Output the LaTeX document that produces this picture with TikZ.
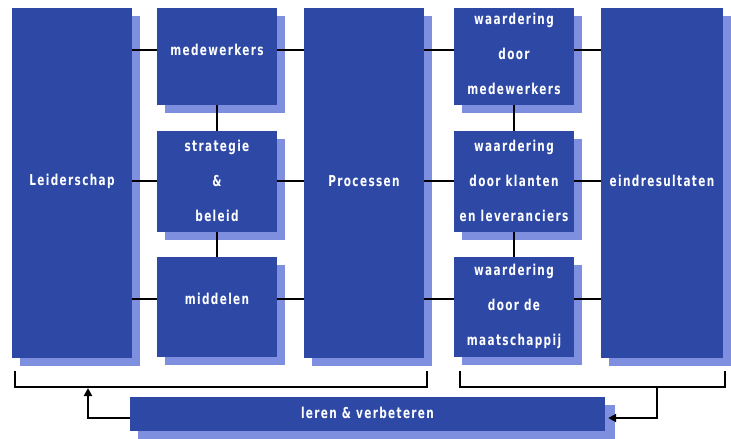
\documentclass[tikz,border=0pt]{standalone}
\usepackage{fontspec}
\newfontfamily\boxfont{DejaVu Sans}[FakeStretch=0.7,LetterSpace=9]
\usetikzlibrary{shadows,arrows.meta,calc}
\definecolor{boxblue}{RGB}{45,72,165}
\definecolor{shadowblue}{RGB}{125,143,222}
\begin{document}
\begin{tikzpicture}[x=1pt,y=-1pt,
  blk/.style={fill=boxblue, draw=none, inner sep=0pt, minimum width=120pt,
    drop shadow={shadow xshift=8pt, shadow yshift=-8pt, fill=shadowblue, opacity=1}},
  lbl/.style={text=white, font=\boxfont\bfseries\fontsize{15}{35}\selectfont, align=center, inner sep=0pt},
  conn/.style={draw=black, line width=2.6pt},
  arr/.style={conn, -{Triangle[length=8pt,width=8pt]}}
]
\useasboundingbox[fill=white] (0,0) rectangle (731,439);

% boxes
\node[blk, minimum height=350pt] (lead) at (72,183) {};
\node[blk, minimum height=97pt] (med) at (217,56.5) {};
\node[blk, minimum height=101pt] (strat) at (217,181.5) {};
\node[blk, minimum height=100pt] (midd) at (217,307) {};
\node[blk, minimum height=350pt] (proc) at (364,183) {};
\node[blk, minimum height=97pt] (wm) at (514,56.5) {};
\node[blk, minimum height=101pt] (wk) at (514,181.5) {};
\node[blk, minimum height=100pt] (wmt) at (514,307) {};
\node[blk, minimum height=350pt, minimum width=122pt] (eind) at (662,183) {};
\node[blk, minimum height=34pt, minimum width=475pt,
  drop shadow={shadow xshift=10pt, shadow yshift=-8pt, fill=shadowblue, opacity=1}] (leren) at (367.5,414) {};

% label anchors
\coordinate (p-lead) at (72,181);
\coordinate (p-med) at (217,50);
\coordinate (p-strat) at (217,181);
\coordinate (p-midd) at (217,299);
\coordinate (p-proc) at (364,181);
\coordinate (p-wm) at (514,53.5);
\coordinate (p-wk) at (514,181);
\coordinate (p-wmt) at (514,306);
\coordinate (p-eind) at (662,181);
\coordinate (p-leren) at (367.5,413);

% connectors
\draw[conn] (lead.east |- p-med) -- (med.west |- p-med);
\draw[conn] (med.east |- p-med) -- (proc.west |- p-med);
\draw[conn] (lead.east |- p-strat) -- (strat.west |- p-strat);
\draw[conn] (strat.east |- p-strat) -- (proc.west |- p-strat);
\draw[conn] (lead.east |- p-midd) -- (midd.west |- p-midd);
\draw[conn] (midd.east |- p-midd) -- (proc.west |- p-midd);
\draw[conn] (med.south) -- (strat.north);
\draw[conn] (strat.south) -- (midd.north);

\draw[conn] (proc.east |- p-med) -- (wm.west |- p-med);
\draw[conn] (wm.east |- p-med) -- (eind.west |- p-med);
\draw[conn] (proc.east |- p-strat) -- (wk.west |- p-strat);
\draw[conn] (wk.east |- p-strat) -- (eind.west |- p-strat);
\draw[conn] (proc.east |- p-midd) -- (wmt.west |- p-midd);
\draw[conn] (wmt.east |- p-midd) -- (eind.west |- p-midd);
\draw[conn] (wm.south) -- (wk.north);
\draw[conn] (wk.south) -- (wmt.north);

% brackets
\coordinate (bl1) at (15,371);
\coordinate (bl2) at (427,371);
\coordinate (br1) at (460,371);
\coordinate (br2) at (725,371);
\coordinate (barL) at (88,387);
\coordinate (barR) at (657,387);
\draw[conn, line width=2.3pt, line join=miter] (bl1) -- (bl1 |- barL) -- (bl2 |- barL) -- (bl2);
\draw[conn, line width=2.3pt, line join=miter] (br1) -- (br1 |- barR) -- (br2 |- barR) -- (br2);
\draw[arr] ($(leren.west)+(0,4)$) -| ($(barL)+(0,1)$);
\draw[arr] ($(barR)+(0,-1)$) |- ($(leren.east)+(3,4)$);

% texts
\foreach \n/\t in {lead/Leiderschap, med/medewerkers, strat/{strategie\\\&\\beleid}, midd/middelen,
  proc/Processen, wm/{waardering\\door\\medewerkers}, wk/{waardering\\door klanten\\en leveranciers},
  wmt/{waardering\\door de\\maatschappij}, eind/eindresultaten, leren/{leren \& verbeteren}}{
  \node[lbl] (t-\n) at (p-\n) {\t};
}
\end{tikzpicture}
\end{document}
